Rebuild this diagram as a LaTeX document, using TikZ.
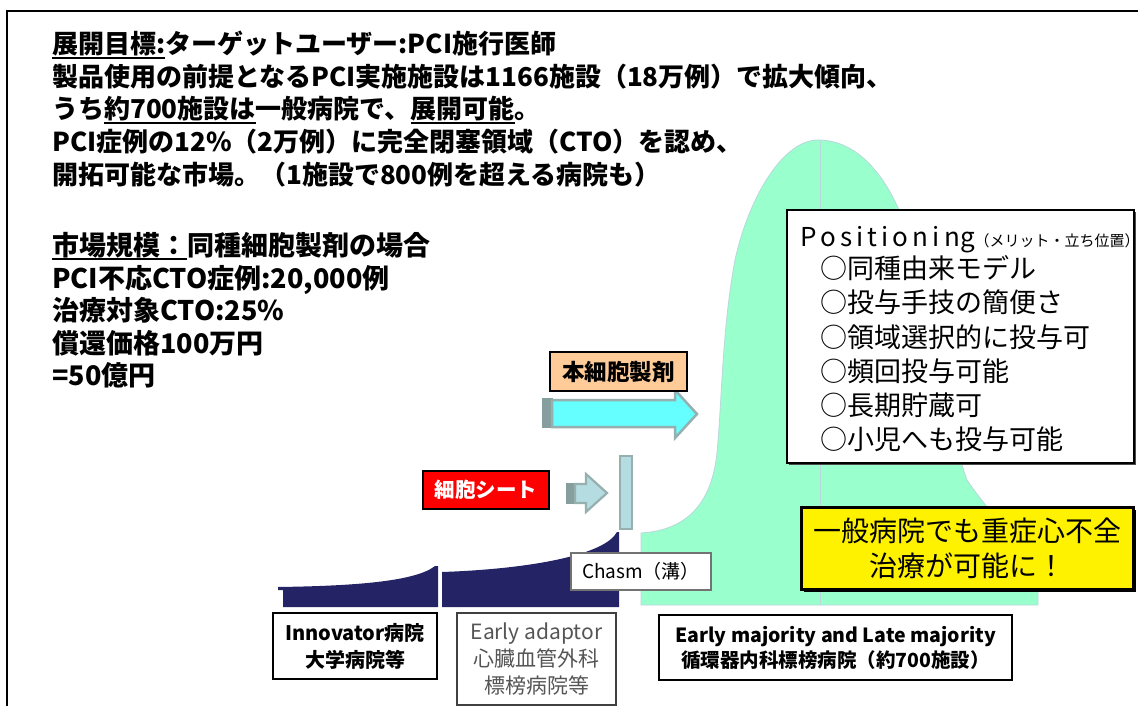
\documentclass[tikz,border=0pt]{standalone}
\usepackage{fontspec}
\newfontfamily\jp{Noto Sans CJK JP}
\newfontfamily\jpls{Noto Sans CJK JP}[LetterSpace=16]
\newsavebox\ulbox
\newcommand\myul[1]{\sbox\ulbox{#1}\rlap{\rule[-4.6pt]{\wd\ulbox}{1.6pt}}\usebox\ulbox}
\definecolor{cnavy}{RGB}{35,35,102}
\definecolor{bellgreen}{RGB}{153,255,204}
\definecolor{bellline}{RGB}{185,215,220}
\definecolor{arrcyan}{RGB}{102,255,255}
\definecolor{arrgray}{RGB}{150,175,175}
\definecolor{lightbar}{RGB}{180,220,225}
\definecolor{boxorange}{RGB}{255,204,153}
\definecolor{adgray}{RGB}{85,85,85}
\begin{document}
\begin{tikzpicture}[x=1pt,y=-1pt,
  txt/.style={anchor=base west,inner sep=0,font=\jp\bfseries\fontsize{26}{30}\selectfont},
  txtb/.style={anchor=base west,inner sep=0,font=\jp\bfseries\fontsize{27}{30}\selectfont},
  box/.style={draw,line width=2pt,inner sep=0,align=center},
  posit/.style={anchor=base west,inner sep=0,font=\jp\fontsize{27}{30}\selectfont}]
\useasboundingbox (0,0) rectangle (1138,706);
\fill[white] (0,0) rectangle (1138,706);
% frame
\draw[line width=2pt] (1138,11) -- (7,11) -- (7,706);
% top texts
\node[txt] (t1) at (52,54) {\myul{展開目標:}ターゲットユーザー:PCI施行医師};
\node[txt] (t2) at (52,86.5) {製品使用の前提となるPCI実施施設は1166施設（18万例）で拡大傾向、};
\node[txt] (t3) at (52,119) {うち\myul{約700施設は}一般病院で、\myul{展開可能}。};
\node[txt] (t4) at (52,151.5) {PCI症例の12\%（2万例）に完全閉塞領域（CTO）を認め、};
\node[txt] (t5) at (52,184) {開拓可能な市場。（1施設で800例を超える病院も）};
\node[txtb] (m1) at (52,255) {\myul{市場規模：}同種細胞製剤の場合};
\node[txtb] (m2) at (52,288) {PCI不応CTO症例:20,000例};
\node[txtb] (m3) at (52,320.5) {治療対象CTO:25\%};
\node[txtb] (m4) at (52,353) {償還価格100万円};
\node[txtb] (m5) at (52,385.5) {=50億円};
% bell curve
\path[fill=bellgreen,draw=bellline,line width=0.8pt] (641,605) -- (641,533)
  .. controls (690,530) and (712,500) .. (717,453)
  .. controls (722,400) and (722,330) .. (735,260)
  .. controls (748,200) and (782,140) .. (818,140)
  .. controls (865,140) and (895,190) .. (910,240)
  .. controls (930,300) and (945,420) .. (967,480)
  .. controls (980,500) and (1015,540) .. (1038,575)
  -- (1038,605) -- cycle;
\coordinate (peak) at (820,141);
\coordinate (base) at (820,605);
\draw[bellline,line width=0.8pt] (peak) -- (base);
% navy tail blocks
\fill[cnavy] (278,587) .. controls (350,586) and (415,582) .. (435,566) -- (438,566)
  -- (438,607) -- (283,607) -- (283,590) -- (278,590) -- cycle;
\fill[cnavy] (442,572) .. controls (530,569) and (605,555) .. (617,532) -- (619,532)
  -- (619,607) -- (442,607) -- cycle;
% big cyan arrow
\fill[arrgray!90!black] (542,398) rectangle (553,428);
\path[fill=arrcyan,draw=arrgray,line width=2.5pt,line join=miter]
  (552,400) -- (675,400) -- (675,390) -- (697,414) -- (675,438) -- (675,427) -- (552,427) -- cycle;
% small arrow
\fill[arrgray!90!black] (566,483) rectangle (576,504);
\path[fill=lightbar,draw=arrgray,line width=2.2pt]
  (575,484) -- (586,484) -- (586,474) -- (607,493) -- (586,512) -- (586,503) -- (575,503) -- cycle;
% vertical bar
\path[fill=lightbar,draw=arrgray,line width=2pt] (620,456) rectangle (632,529);
% boxes
\node[box,fill=boxorange,minimum width=137,minimum height=39,font=\jp\bfseries\fontsize{22.5}{26}\selectfont] (hon) at (618.5,371.5) {本細胞製剤};
\node[box,fill=red,text=white,minimum width=126,minimum height=38,font=\jp\bfseries\fontsize{20.5}{24}\selectfont] (sheet) at (486,490) {細胞シート};
\node[box,draw=black!55,line width=1.2pt,fill=white,minimum width=140,minimum height=37,font=\jp\fontsize{19}{22}\selectfont] (chasm) at (641,571.5) {Chasm（溝）};
\node[box,fill=white,minimum width=164,minimum height=66,font=\jp\bfseries\fontsize{20}{27}\selectfont] (innov) at (355,646) {Innovator病院\\大学病院等};
\node[box,draw=black!75,fill=white,text=adgray,minimum width=159,minimum height=92,font=\jp\fontsize{21}{27}\selectfont] (adapt) at (536.5,659) {Early adaptor\\心臓血管外科\\標榜病院等};
\node[box,fill=white,minimum width=353,minimum height=65,font=\jp\bfseries\fontsize{19.5}{25}\selectfont] (major) at (835.5,647.5) {Early majority and Late majority\\循環器内科標榜病院（約700施設）};
% yellow box
\fill[black] (804,510) rectangle (1136,592);
\node[box,line width=3pt,fill=yellow,minimum width=332,minimum height=82,font=\jp\fontsize{28}{35}\selectfont] (goal) at (967,548) {一般病院でも重症心不全\\治療が可能に！};
% positioning box
\fill[black!70] (789,212) rectangle (1136,465);
\node[box,line width=1.5pt,fill=white,minimum width=347,minimum height=253] (posbox) at (960.5,336.5) {};
\node[anchor=base west,inner sep=0] (postitle) at (800,246) {{\jpls\fontsize{26}{28}\selectfont Positionin}{\jp\fontsize{26}{28}\selectfont g}{\jp\fontsize{15}{18}\selectfont（メリット・立ち位置）}};
\node[posit] (p1) at (820,278.3) {○同種由来モデル};
\node[posit] (p2) at (820,312.3) {○投与手技の簡便さ};
\node[posit] (p3) at (820,347.3) {○領域選択的に投与可};
\node[posit] (p4) at (820,381.3) {○頻回投与可能};
\node[posit] (p5) at (820,415.3) {○長期貯蔵可};
\node[posit] (p6) at (820,449.3) {○小児へも投与可能};
\end{tikzpicture}
\end{document}
